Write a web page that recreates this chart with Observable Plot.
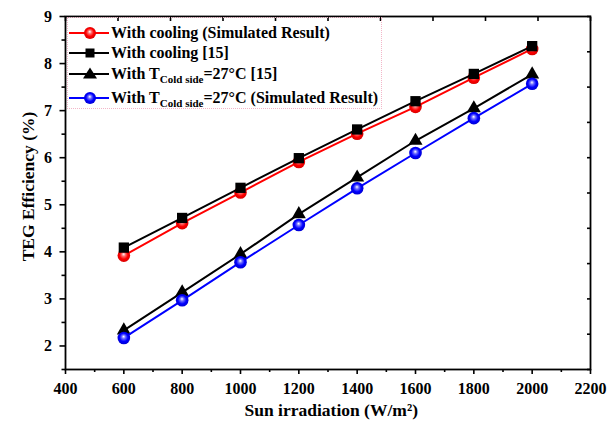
<!DOCTYPE html>
<html>
<head>
<meta charset="utf-8">
<script src="https://cdn.jsdelivr.net/npm/d3@7"></script>
<script src="https://cdn.jsdelivr.net/npm/@observablehq/plot@0.6"></script>
<style>
  html, body { margin: 0; padding: 0; background: #fff; }
  #wrap { position: relative; width: 616px; height: 424px; font-family: "Liberation Serif", serif; font-weight: bold; color: #000; }
  #legend { position: absolute; left: 67px; top: 17px; width: 315px; height: 92px; border: 1px dotted #f2b6c8; box-sizing: border-box; }
  .row { position: absolute; left: 0; height: 20px; line-height: 20px; white-space: nowrap; font-size: 16px; }
  .row svg { position: absolute; left: 0; top: 0; }
  .row span { position: absolute; left: 43px; top: 0; }
  .row sub { font-size: 11px; vertical-align: -4px; line-height: 0; }
  .title { position: absolute; font-size: 17.5px; white-space: nowrap; }
</style>
</head>
<body>
<svg width="0" height="0" style="position:absolute">
  <defs>
    <radialGradient id="gRed" cx="0.5" cy="0.5" r="0.55" fx="0.48" fy="0.38">
      <stop offset="0" stop-color="#ffffff"/>
      <stop offset="0.28" stop-color="#ff6a6a"/>
      <stop offset="0.6" stop-color="#ff0000"/>
      <stop offset="1" stop-color="#d00000"/>
    </radialGradient>
    <radialGradient id="gBlue" cx="0.5" cy="0.5" r="0.55" fx="0.48" fy="0.38">
      <stop offset="0" stop-color="#ffffff"/>
      <stop offset="0.28" stop-color="#6a6aff"/>
      <stop offset="0.6" stop-color="#0000ff"/>
      <stop offset="1" stop-color="#0000c8"/>
    </radialGradient>
  </defs>
</svg>
<div id="wrap">
  <div id="chart"></div>
  <div id="legend"></div>
  <div class="title" id="xtitle">Sun irradiation (W/m²)</div>
  <div class="title" id="ytitle">TEG Efficiency (%)</div>
</div>
<script>
// ---- data ----
const irradiance = [600, 800, 1000, 1200, 1400, 1600, 1800, 2000];
const coolingSimulated = [3.92, 4.61, 5.26, 5.91, 6.51, 7.08, 7.70, 8.31];
const coolingRef15 = [4.09, 4.72, 5.36, 5.99, 6.60, 7.20, 7.78, 8.37];
const cold27Ref15 = [2.33, 3.14, 3.95, 4.80, 5.58, 6.36, 7.05, 7.77];
const cold27Simulated = [2.17, 2.97, 3.78, 4.57, 5.35, 6.10, 6.84, 7.57];

const xTicks = [400, 600, 800, 1000, 1200, 1400, 1600, 1800, 2000, 2200];
const xMinorTicks = [500, 700, 900, 1100, 1300, 1500, 1700, 1900, 2100];
const yTicks = [2, 3, 4, 5, 6, 7, 8, 9];
const yMinorTicks = [1.5, 2.5, 3.5, 4.5, 5.5, 6.5, 7.5, 8.5];
const topTicks = [400, 580, 760, 940, 1120, 1300, 1480, 1660, 1840, 2020, 2200];
const rightTicks = [1.5, 2.25, 3, 3.75, 4.5, 5.25, 6, 6.75, 7.5, 8.25, 9];

const seriesLabels = [
  "With cooling (Simulated Result)",
  "With cooling [15]",
  "With T<sub>Cold side</sub>=27°C [15]",
  "With T<sub>Cold side</sub>=27°C (Simulated Result)"
];

const series = [
  {values: coolingSimulated, line: "#ff0000", fill: "url(#gRed)", symbol: "circle", r: 6.3},
  {values: coolingRef15, line: "#000000", fill: "#000000", symbol: "square", r: 5.8},
  {values: cold27Ref15, line: "#000000", fill: "#000000", symbol: "triangle", r: 5.2},
  {values: cold27Simulated, line: "#0000ff", fill: "url(#gBlue)", symbol: "circle", r: 6.3}
];

const marks = [];
for (const s of series) {
  const rows = irradiance.map((x, i) => ({x, y: s.values[i]}));
  marks.push(Plot.line(rows, {x: "x", y: "y", stroke: s.line, strokeWidth: 2}));
  marks.push(Plot.dot(rows, {x: "x", y: "y", symbol: s.symbol, r: s.r, fill: s.fill, stroke: "none"}));
}

const chart = Plot.plot({
  width: 616,
  height: 424,
  marginLeft: 65,
  marginRight: 26,
  marginTop: 16,
  marginBottom: 55,
  style: {fontFamily: "'Liberation Serif', serif", fontWeight: "bold", fontSize: "16px", color: "#000", background: "#fff"},
  x: {domain: [400, 2200]},
  y: {domain: [1.5, 9]},
  marks: [
    ...marks,
    Plot.axisX({ticks: xTicks, tickSize: 5, tickPadding: 8, tickFormat: d => String(d), label: null, strokeWidth: 1.6, fontSize: 16}),
    Plot.axisX({ticks: xMinorTicks, tickSize: 3, tickFormat: () => "", label: null, strokeWidth: 1.6}),
    Plot.axisY({ticks: yTicks, tickSize: 5.5, tickPadding: 8, tickFormat: d => String(d), label: null, strokeWidth: 1.6, fontSize: 16}),
    Plot.axisY({ticks: yMinorTicks, tickSize: 3.5, tickFormat: () => "", label: null, strokeWidth: 1.6}),
    Plot.axisX({anchor: "top", ticks: topTicks, tickSize: -4, tickFormat: () => "", label: null, strokeWidth: 1.6}),
    Plot.axisY({anchor: "right", ticks: rightTicks, tickSize: -4, tickFormat: () => "", label: null, strokeWidth: 1.6}),
    Plot.frame({stroke: "#000", strokeWidth: 1.8})
  ]
});
document.getElementById("chart").appendChild(chart);

// ---- legend (HTML, symbols mirror the series styling) ----
const legend = document.getElementById("legend");
const rowCenters = [15, 35, 55.5, 80];
series.forEach((s, i) => {
  const row = document.createElement("div");
  row.className = "row";
  row.style.top = (rowCenters[i] - 10) + "px";
  let sym;
  if (s.symbol === "circle") sym = `<circle cx="22" cy="10" r="6" fill="${s.fill}"/>`;
  else if (s.symbol === "square") sym = `<rect x="17.5" y="5.5" width="9" height="9" fill="#000"/>`;
  else sym = `<path d="M22,3.5 L29,14.5 L15,14.5 Z" fill="#000"/>`;
  row.innerHTML = `<svg width="44" height="20"><line x1="1" x2="41" y1="10" y2="10" stroke="${s.line}" stroke-width="2"/>${sym}</svg><span>${seriesLabels[i]}</span>`;
  legend.appendChild(row);
});

// axis titles
const xt = document.getElementById("xtitle");
xt.style.left = (331 - xt.offsetWidth / 2) + "px";
xt.style.top = (410 - xt.offsetHeight / 2) + "px";
const yt = document.getElementById("ytitle");
yt.style.left = (29 - yt.offsetWidth / 2) + "px";
yt.style.top = (186 - yt.offsetHeight / 2) + "px";
yt.style.transform = "rotate(-90deg)";
</script>
</body>
</html>
